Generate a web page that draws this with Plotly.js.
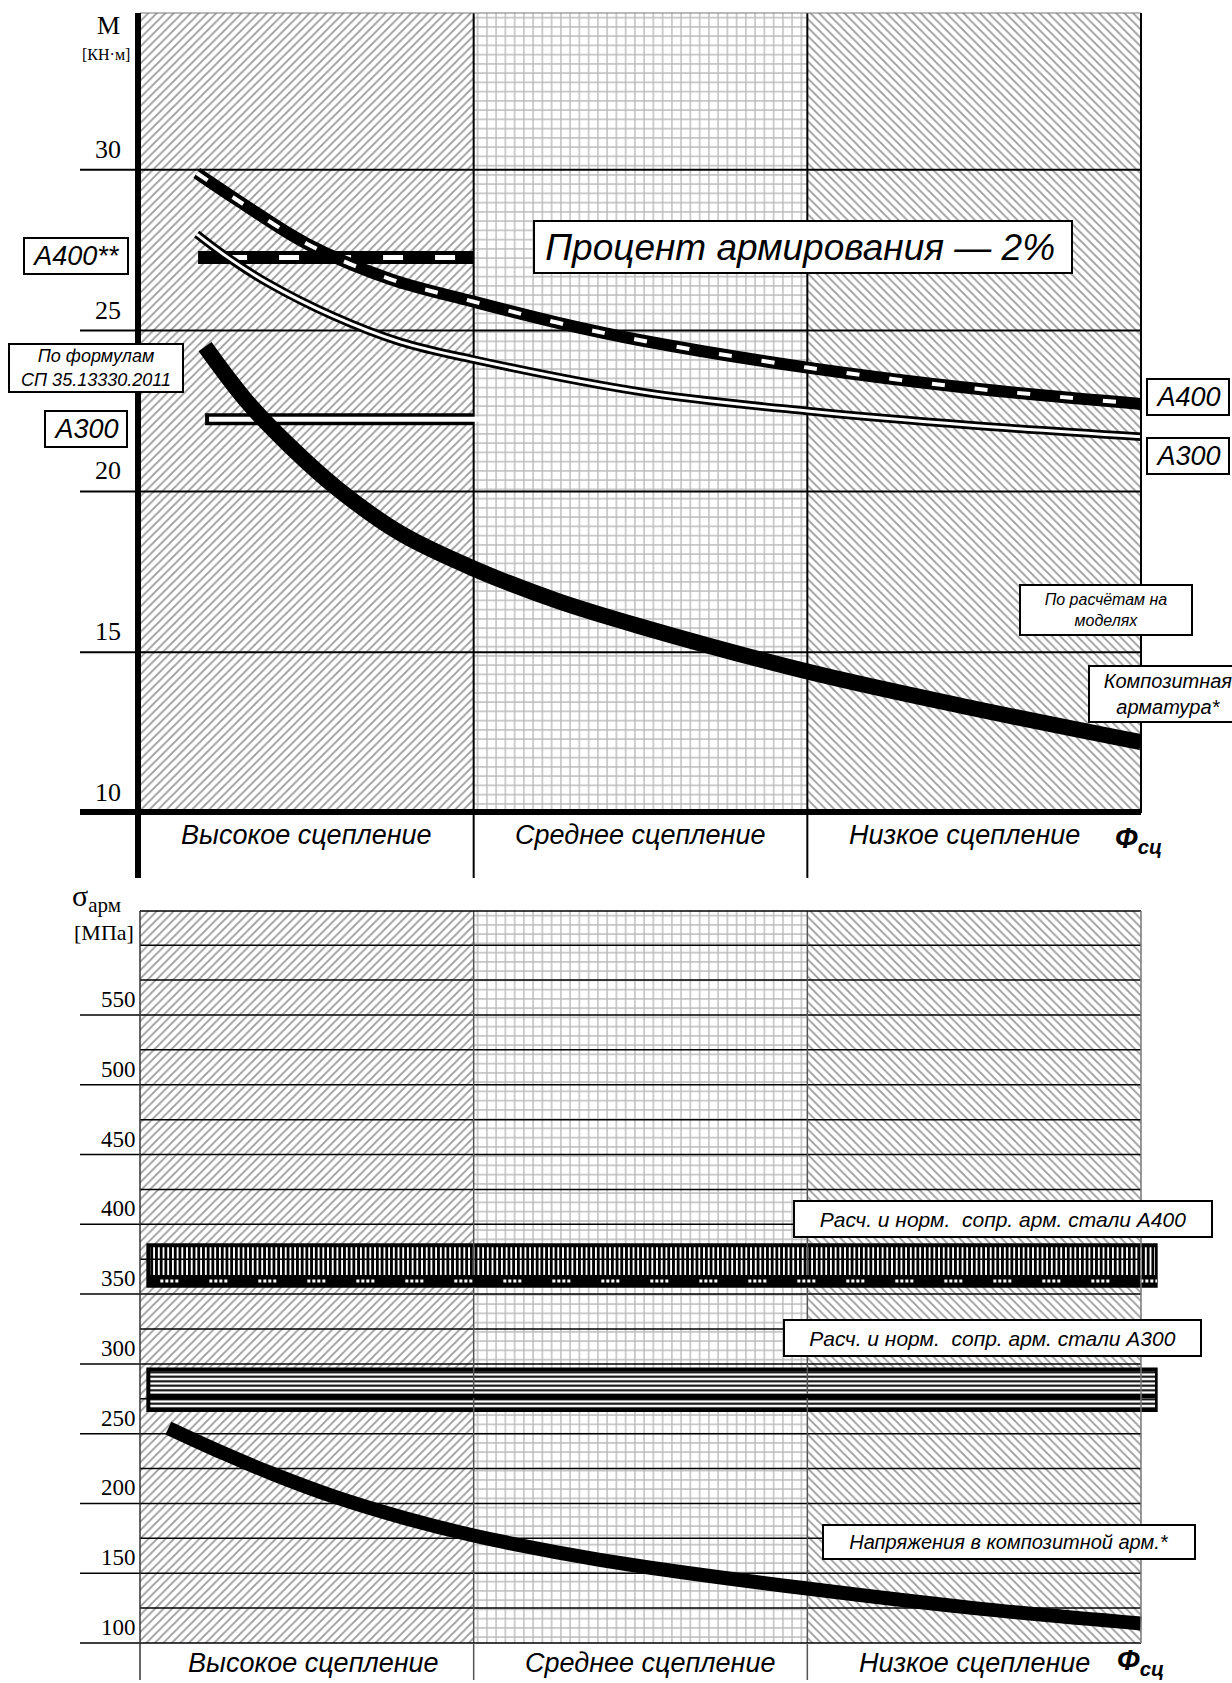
<!DOCTYPE html>
<html><head><meta charset="utf-8">
<script src="https://cdn.plot.ly/plotly-3.0.1.min.js"></script>
<style>html,body{margin:0;padding:0;background:#fff}</style>
</head><body>
<div id="chart" style="width:1232px;height:1683px"></div>
<script>
// ---------------- DATA ----------------
const zoneNames = ['Высокое сцепление', 'Среднее сцепление', 'Низкое сцепление'];
const zoneCenters = [0.5, 1.5, 2.5];
const zoneEdges = [1, 2];
const zoneLabelXTop = [0.5, 1.5, 2.47];
const zoneLabelXBottom = [0.52, 1.53, 2.5];

const momentTicks = [10, 15, 20, 25, 30];
const stressMajorTicks = [100, 150, 200, 250, 300, 350, 400, 450, 500, 550];
const stressMinorTicks = [125, 175, 225, 275, 325, 375, 425, 475, 525, 575, 600];

// Top chart: M [кН·м] vs bond (0..3)
const a400X = [0.17, 0.30, 0.50, 0.75, 1.00, 1.25, 1.50, 2.00, 2.50, 3.00];
const a400M = [29.9, 29.0, 27.7, 26.6, 25.9, 25.25, 24.7, 23.85, 23.2, 22.72];

const a300X = [0.17, 0.26, 0.38, 0.58, 0.78, 1.00, 1.50, 2.00, 2.50, 3.00];
const a300M = [28.0, 27.3, 26.5, 25.45, 24.65, 24.1, 23.1, 22.5, 22.05, 21.7];

const compX = [0.195, 0.32, 0.45, 0.59, 0.78, 1.00, 1.25, 1.50, 2.00, 2.50, 3.00];
const compM = [24.5, 22.8, 21.4, 20.1, 18.7, 17.6, 16.6, 15.8, 14.4, 13.25, 12.2];

// SP 35.13330.2011 formula levels (high bond zone only)
const a400FormulaX = [0.174, 1.0];
const a400FormulaM = [27.27, 27.27];
const a300FormulaX = [0.195, 1.0];
const a300FormulaM = [22.24, 22.24];

// Bottom chart: stress [МПа]
const stressX = [0.085, 0.25, 0.40, 0.58, 0.80, 1.00, 1.25, 1.50, 2.00, 2.50, 3.00];
const stressY = [254, 236, 221, 205, 189, 177, 165, 155, 139, 125, 114];

const bandX = [0.025, 3.048];
const a400Band = [356, 385];      // design & normative resistance A400
const a400BandLine = 359.4;
const a300Band = [267, 296];      // design & normative resistance A300
const a300BandLine = 276.9;

// ---------------- GEOMETRY / STYLE ----------------
const W = 1232, H = 1683;
const px = x => x / W, py = y => 1 - y / H;
const momentRange = [10, 34.876];
const stressRange = [100, 624.5];
const topB = 813, topT = 13, botB = 1643, botT = 911;

const serif = 'Liberation Serif, Times New Roman, serif';
const sans = 'Liberation Sans, Arial, sans-serif';
const narrow = 'Liberation Sans Narrow, Arial Narrow, Liberation Sans, Arial, sans-serif';

const zonePatterns = ['/', '+', '\\'];
const zoneFg = ['#9a9a9a', '#b8b8b8', '#9a9a9a'];
const zoneSizes = [6, 9.25, 6];
const zoneSolid = [0.3, 0.27, 0.3];

function zoneBars(xa, ya, r) {
  return {
    type: 'bar', xaxis: xa, yaxis: ya, x: zoneCenters,
    y: zoneCenters.map(() => r[1] - r[0]), base: zoneCenters.map(() => r[0]),
    width: zoneCenters.map(() => 1),
    marker: {color: 'rgba(0,0,0,0)', line: {width: 0},
      pattern: {shape: zonePatterns, fgcolor: zoneFg, bgcolor: 'rgba(0,0,0,0)',
        size: zoneSizes, solidity: zoneSolid, fillmode: 'replace'}},
    hoverinfo: 'skip', showlegend: false
  };
}
function ln(xa, ya, x, y, color, width, dash, spline) {
  return {type: 'scatter', mode: 'lines', xaxis: xa, yaxis: ya, x: x, y: y,
    line: {color: color, width: width, dash: dash || 'solid', shape: spline ? 'spline' : 'linear', smoothing: 1},
    hoverinfo: 'skip', showlegend: false, connectgaps: false};
}
function hGrid(xa, ya, vals, x0, x1, color, width) {
  const x = [], y = [];
  vals.forEach(v => { x.push(x0, x1, null); y.push(v, v, null); });
  return ln(xa, ya, x, y, color, width);
}
function vGrid(xa, ya, vals, r, color, width) {
  const x = [], y = [];
  vals.forEach(v => { x.push(v, v, null); y.push(r[0], r[1], null); });
  return ln(xa, ya, x, y, color, width);
}

const traces = [];
// ----- top chart -----
traces.push(zoneBars('x', 'y', momentRange));
traces.push(hGrid('x', 'y', momentTicks.slice(1), 0, 3, 'black', 2));
traces.push(vGrid('x', 'y', zoneEdges, momentRange, 'black', 2));
traces.push(ln('x', 'y', a400FormulaX, a400FormulaM, 'black', 13));
traces.push(ln('x', 'y', a400FormulaX, a400FormulaM, 'white', 5, '0px,29px,20px,3px'));
traces.push(ln('x', 'y', a300FormulaX, a300FormulaM, 'black', 12));
traces.push(ln('x', 'y', [a300FormulaX[0] + 0.012, a300FormulaX[1] + 0.02], a300FormulaM, 'white', 5));
traces.push(ln('x', 'y', a300X, a300M, 'black', 8.5, null, true));
traces.push(ln('x', 'y', a300X, a300M, 'white', 3, null, true));
traces.push(ln('x', 'y', a400X, a400M, 'black', 12, null, true));
traces.push(ln('x', 'y', a400X, a400M, 'white', 4, '13px,30px', true));
traces.push(ln('x', 'y', compX, compM, 'black', 16, null, true));

// ----- bottom chart -----
traces.push(zoneBars('x2', 'y2', stressRange));
traces.push(hGrid('x2', 'y2', stressMajorTicks.slice(1).concat(stressMinorTicks), 0, 3, 'black', 1.5));
traces.push(vGrid('x2', 'y2', zoneEdges, stressRange, '#555', 1.5));
function band(r, shape, size, solid) {
  return {type: 'bar', xaxis: 'x2', yaxis: 'y2',
    x: [(bandX[0] + bandX[1]) / 2], width: [bandX[1] - bandX[0]],
    base: [r[0]], y: [r[1] - r[0]],
    marker: {color: 'white', line: {color: 'black', width: 4},
      pattern: {shape: shape, fgcolor: 'black', bgcolor: 'white', size: size, solidity: solid, fillmode: 'replace'}},
    hoverinfo: 'skip', showlegend: false};
}
traces.push(band(a400Band, '|', 4.7, 0.6));
traces.push(ln('x2', 'y2', bandX, [a400BandLine, a400BandLine], 'black', 12));
traces.push(ln('x2', 'y2', bandX, [a400BandLine, a400BandLine], 'white', 3, '0px,12px,3px,2px,3px,2px,3px,2px,3px,19px'));
traces.push(band(a300Band, '-', 4.5, 0.45));
traces.push(ln('x2', 'y2', bandX, [a300BandLine, a300BandLine], 'black', 4));
traces.push(ln('x2', 'y2', stressX, stressY, 'black', 14, null, true));

// ---------------- SHAPES (frame lines outside the plot areas) ----------------
const shapes = [];
function hl(x0, x1, yref, y, w, color, layer) {
  shapes.push({type: 'line', xref: 'paper', yref: yref, x0: x0, x1: x1, y0: y, y1: y,
    line: {color: color || 'black', width: w}, layer: layer || 'above'});
}
function vl(xref, x, y0, y1, w, color, layer) {
  shapes.push({type: 'line', xref: xref, yref: 'paper', x0: x, x1: x, y0: y0, y1: y1,
    line: {color: color || 'black', width: w}, layer: layer || 'above'});
}
// top chart
momentTicks.slice(1).forEach(v => hl(px(80), px(140), 'y', v, 2));
hl(px(80), px(1141), 'paper', py(812), 6);
hl(px(140), px(1141), 'paper', py(topT), 1, '#777');
vl('paper', px(138), py(topT), py(878), 6);
zoneEdges.forEach(v => vl('x', v, py(topB), py(878), 2));
vl('paper', px(1141), py(topT), py(topB), 2);

// bottom chart
stressMajorTicks.slice(1).forEach(v => hl(px(80), px(140), 'y2', v, 1.5));
hl(px(80), px(1141), 'paper', py(botB), 1.5);
hl(px(140), px(1141), 'paper', py(botT), 1.5);
vl('paper', px(140), py(botT), py(1680), 1.5, '#333');
zoneEdges.forEach(v => vl('x2', v, py(botB), py(1680), 1.5, '#555'));
vl('x2', 3, py(botT), py(botB), 1.5, '#777');

// ---------------- ANNOTATIONS ----------------
const ann = [];
momentTicks.forEach(v => ann.push({xref: 'paper', yref: 'y', x: px(123), y: v, xanchor: 'right', yanchor: 'bottom',
  yshift: 4, text: String(v), showarrow: false, font: {family: serif, size: 26, color: 'black'}}));
stressMajorTicks.forEach(v => ann.push({xref: 'paper', yref: 'y2', x: px(138), y: v, xanchor: 'right', yanchor: 'bottom',
  yshift: 1, text: String(v), showarrow: false, font: {family: serif, size: 23, color: 'black'}}));

function txt(t, x, y, size, family, extra) {
  ann.push(Object.assign({xref: 'paper', yref: 'paper', x: px(x), y: py(y), xanchor: 'center', yanchor: 'middle',
    text: t, showarrow: false, font: {family: family, size: size, color: 'black'}}, extra || {}));
}
txt('M', 108, 26, 26, serif);
txt('[КН·м]', 106, 54, 16, serif);
txt('σ<sub>арм</sub>', 96, 898, 30, serif);
txt('[МПа]', 104, 932, 22, serif);

zoneNames.forEach((n, i) => {
  ann.push({xref: 'x', yref: 'paper', x: zoneLabelXTop[i], y: py(835), xanchor: 'center', yanchor: 'middle',
    text: n, showarrow: false, font: {family: sans, size: 27, style: 'italic', color: 'black'}});
  ann.push({xref: 'x2', yref: 'paper', x: zoneLabelXBottom[i], y: py(1663), xanchor: 'center', yanchor: 'middle',
    text: n, showarrow: false, font: {family: sans, size: 27, style: 'italic', color: 'black'}});
});
txt('<b><i>Ф<sub>сц</sub></i></b>', 1138, 840, 29, sans);
txt('<b><i>Ф<sub>сц</sub></i></b>', 1140, 1662, 29, sans);

function box(t, cx, cy, w, h, size, family, align) {
  ann.push({xref: 'paper', yref: 'paper', x: px(cx), y: py(cy), xanchor: 'center', yanchor: 'middle',
    width: w - 4, height: h - 4, align: align || 'center', valign: 'middle', borderpad: 0,
    bordercolor: 'black', borderwidth: 2, bgcolor: 'white', text: t, showarrow: false,
    font: {family: family, size: size, style: 'italic', color: 'black'}});
}
box('A400**', 76, 256, 106, 38, 27, sans);
box('По формулам<br>СП 35.13330.2011', 96, 368, 176, 50, 18, narrow);
box('A300', 86, 429, 84, 38, 27, sans);
box(' Процент армирования — 2%', 803, 247, 540, 54, 37, sans, 'left');
box('A400', 1188, 397, 84, 38, 27, sans);
box('A300', 1188, 456, 84, 38, 27, sans);
box('По расчётам на<br>моделях', 1106, 610, 174, 52, 16, narrow);
box('Композитная<br>арматура*', 1168, 694, 160, 58, 20, sans);
box('Расч. и норм.  сопр. арм. стали A400', 1003, 1219, 420, 38, 21, narrow);
box('Расч. и норм.  сопр. арм. стали A300', 992, 1338, 419, 38, 21, narrow);
box('Напряжения в композитной арм.*', 1009, 1542, 374, 36, 20, narrow);

// ---------------- LAYOUT ----------------
const hidden = {visible: false, showgrid: false, zeroline: false, fixedrange: true};
const layout = {
  width: W, height: H, margin: {l: 0, r: 0, t: 0, b: 0},
  paper_bgcolor: 'white', plot_bgcolor: 'white',
  barmode: 'overlay', bargap: 0, showlegend: false, hovermode: false,
  xaxis: Object.assign({domain: [px(140), px(1141)], range: [0, 3], anchor: 'y'}, hidden),
  yaxis: Object.assign({domain: [py(topB), py(topT)], range: momentRange, anchor: 'x'}, hidden),
  xaxis2: Object.assign({domain: [px(140), px(140 + 3.05 * 1001 / 3)], range: [0, 3.05], anchor: 'y2'}, hidden),
  yaxis2: Object.assign({domain: [py(botB), py(botT)], range: stressRange, anchor: 'x2'}, hidden),
  shapes: shapes, annotations: ann
};
Plotly.newPlot('chart', traces, layout, {staticPlot: true, displayModeBar: false});
</script>
</body></html>
